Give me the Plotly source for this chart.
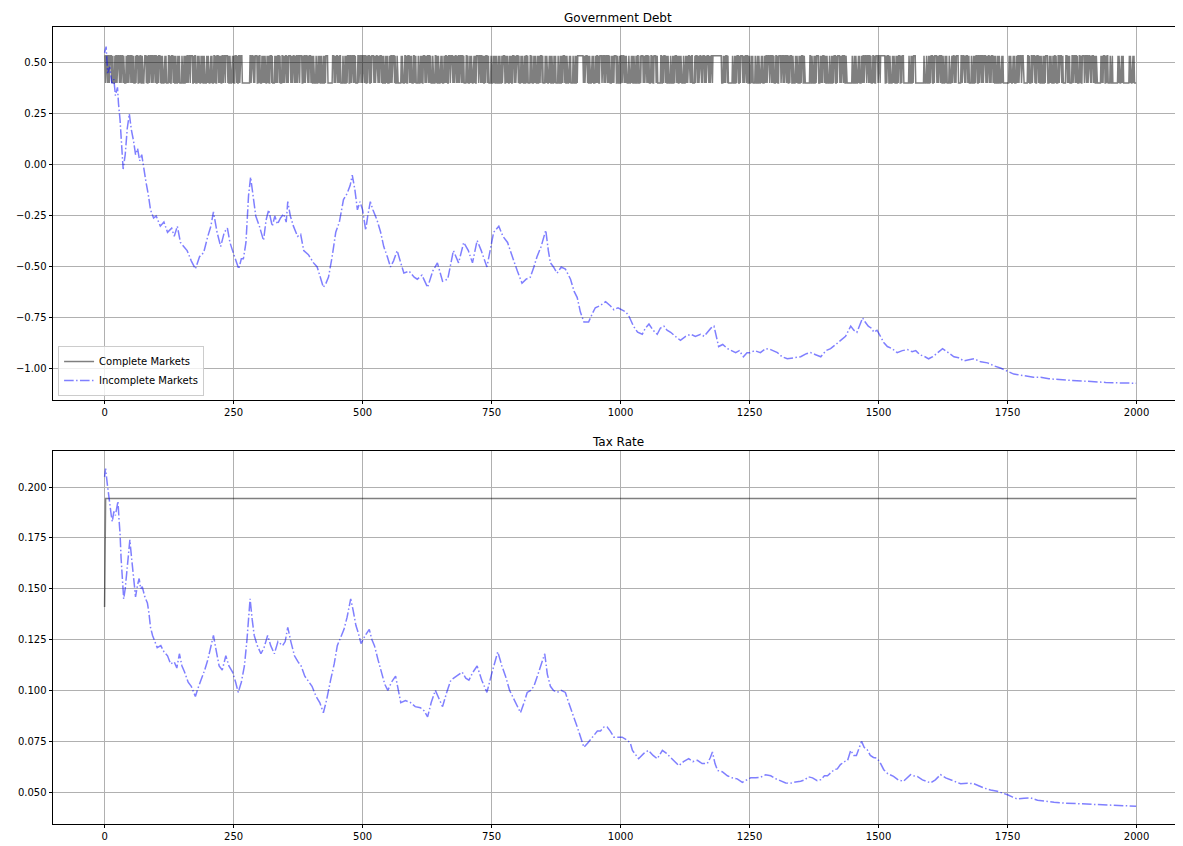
import plotly.graph_objects as go
from plotly.subplots import make_subplots

T = 2000

# ---- Complete markets: debt switches between two levels ----
debt_high = 0.535
debt_low = 0.402
# run lengths of alternating states (read as best possible from the dense band)
cm_runs = (
    "213121412311213221311412213121231132112213411221312131221131"
    "121321142112312213112413121221314211231213112214121321132112"
    "312112213141121321123112214131221131213211421123121213112231"
    "141212311321213112412131122131421121321131221413112213121143"
    "211231213112241312113221312114213121312211321141213212311213"
    "112312214113121321142112312113212413112231213121131421121321"
    "131221123141213112213121142113121321124131212211312413112213"
    "121311421213112231214113121312211421131213121231141213211213"
    "112413121231121321141312113221312141121321131221124131213121"
    "131211421312213112141321121312231141213121132112413121321131"
    "221413121131221214131121321124113121321131214121312213112143"
    "121131221413121132114121312213112413121321131221413121132112"
    "413121312211321412131211321141312213121143121131221413121132"
    "114121312213112413121321131221413121132112413121312211321412"
    "131211321141312213121143121131221413121132114121312213112413"
    "213112413121321131241312113221312141213112312213121321141213"
    "121321131221413121312113214112312213121143121312211321412131"
    "312114213121132112413121321131221413121132112413121312211321"
    "412131211321141312213121143121131221413121132114121312213112"
    "413121321131221413121132112413121312211321412131211321141312"
)
# long holds visible as white slits: (start, end, state 1=high 0=low)
cm_holds = [
    (267, 281, 0), (434, 441, 0), (568, 574, 0), (918, 926, 1),
    (1072, 1077, 0), (1180, 1192, 1), (1209, 1212, 0), (1358, 1365, 0),
    (1440, 1444, 0), (1504, 1510, 1), (1549, 1556, 0), (1575, 1585, 0),
    (1655, 1658, 0), (1742, 1750, 0), (1781, 1788, 0), (1858, 1861, 0),
    (1924, 1927, 0), (1955, 1963, 0), (1975, 1985, 0),
]

states = []
s = 1
for ch in cm_runs:
    states.extend([s] * int(ch))
    s = 1 - s
states = states[:T]
while len(states) < T:
    states.append(states[-1])
for a, b, st in cm_holds:
    for i in range(a, b + 1):
        states[i] = st
debt_complete = [debt_high if st else debt_low for st in states]

# Complete markets tax: initial value then constant
tax_complete_0 = 0.141
tax_complete_rest = 0.1943
tax_complete = [tax_complete_0] + [tax_complete_rest] * (T - 1)

# ---- Incomplete markets debt (t, value) ----
debt_t = [0,3,6,10,14,18,21,25,27,30,33,36,40,44,48,52,56,60,64,68,72,76,80,85,89,95,100,108,115,122,130,135,141,147,153,160,168,176,184,192,200,206,211,218,225,232,238,243,248,254,260,265,269,274,279,283,288,293,300,308,313,318,325,330,335,341,347,352,355,360,366,374,380,386,395,405,412,418,424,429,434,441,448,455,463,470,476,480,485,490,495,500,506,510,515,520,528,535,541,548,554,560,567,574,580,590,600,606,615,626,636,645,655,665,676,686,696,705,713,722,730,741,748,754,764,772,781,787,793,800,809,817,825,832,838,846,855,860,864,870,877,885,893,903,910,916,922,929,938,945,951,960,971,980,987,995,1003,1010,1016,1025,1033,1042,1048,1055,1063,1071,1077,1084,1090,1097,1106,1116,1126,1136,1145,1155,1162,1168,1175,1181,1186,1190,1198,1207,1215,1223,1230,1238,1245,1251,1260,1271,1281,1291,1304,1313,1323,1335,1349,1360,1368,1378,1388,1398,1407,1417,1426,1436,1446,1452,1458,1464,1469,1474,1480,1486,1491,1497,1504,1510,1517,1526,1536,1546,1556,1565,1572,1580,1590,1597,1605,1614,1624,1635,1646,1655,1665,1675,1685,1698,1711,1724,1736,1749,1762,1775,1788,1800,1814,1830,1850,1866,1890,1917,1940,1963,1999]
debt_v = [0.55,0.58,0.45,0.48,0.40,0.42,0.34,0.38,0.30,0.22,0.10,-0.02,0.05,0.18,0.25,0.17,0.12,0.05,0.08,0.02,0.05,-0.02,-0.08,-0.15,-0.22,-0.26,-0.25,-0.30,-0.28,-0.33,-0.31,-0.35,-0.30,-0.38,-0.40,-0.42,-0.47,-0.51,-0.45,-0.43,-0.35,-0.30,-0.23,-0.33,-0.40,-0.33,-0.31,-0.38,-0.42,-0.47,-0.51,-0.46,-0.46,-0.38,-0.15,-0.06,-0.17,-0.25,-0.30,-0.37,-0.27,-0.22,-0.30,-0.25,-0.29,-0.26,-0.24,-0.28,-0.18,-0.25,-0.30,-0.35,-0.34,-0.42,-0.44,-0.48,-0.50,-0.55,-0.60,-0.58,-0.55,-0.45,-0.33,-0.28,-0.17,-0.14,-0.10,-0.05,-0.12,-0.22,-0.18,-0.22,-0.32,-0.25,-0.18,-0.22,-0.27,-0.33,-0.40,-0.45,-0.50,-0.47,-0.42,-0.48,-0.53,-0.52,-0.55,-0.56,-0.54,-0.60,-0.52,-0.48,-0.57,-0.56,-0.42,-0.48,-0.38,-0.42,-0.48,-0.37,-0.42,-0.50,-0.40,-0.33,-0.30,-0.35,-0.38,-0.42,-0.47,-0.52,-0.58,-0.56,-0.55,-0.50,-0.45,-0.40,-0.32,-0.42,-0.48,-0.50,-0.53,-0.50,-0.51,-0.56,-0.62,-0.65,-0.72,-0.77,-0.77,-0.73,-0.70,-0.69,-0.67,-0.69,-0.71,-0.70,-0.71,-0.72,-0.74,-0.79,-0.82,-0.83,-0.80,-0.78,-0.81,-0.83,-0.80,-0.79,-0.81,-0.82,-0.84,-0.86,-0.84,-0.83,-0.84,-0.83,-0.84,-0.82,-0.80,-0.79,-0.85,-0.89,-0.88,-0.90,-0.91,-0.92,-0.91,-0.94,-0.92,-0.92,-0.91,-0.92,-0.90,-0.905,-0.92,-0.94,-0.95,-0.945,-0.94,-0.925,-0.92,-0.93,-0.94,-0.91,-0.90,-0.88,-0.86,-0.84,-0.79,-0.81,-0.82,-0.78,-0.75,-0.77,-0.79,-0.80,-0.82,-0.81,-0.84,-0.87,-0.89,-0.90,-0.92,-0.91,-0.905,-0.915,-0.91,-0.93,-0.94,-0.95,-0.94,-0.92,-0.90,-0.92,-0.94,-0.945,-0.96,-0.955,-0.95,-0.965,-0.97,-0.985,-0.995,-1.01,-1.025,-1.03,-1.035,-1.04,-1.04,-1.048,-1.052,-1.055,-1.06,-1.063,-1.066,-1.068,-1.07]

# ---- Incomplete markets tax rate (t, value) ----
tax_t = [0,2,5,8,10,13,15,18,21,24,26,28,30,32,34,37,40,44,49,52,54,57,60,64,67,70,73,78,83,86,89,93,96,102,109,115,122,128,135,140,145,150,155,162,168,176,181,187,194,200,206,211,216,222,228,235,241,248,254,259,265,271,276,282,286,290,296,303,309,316,322,329,336,345,350,355,361,368,375,381,388,394,402,410,417,424,430,438,445,451,458,464,470,477,482,487,492,497,505,513,518,523,530,536,543,549,556,564,569,574,583,593,602,612,619,626,633,641,648,655,663,671,682,693,700,706,714,722,731,741,750,758,762,770,777,785,793,800,806,813,819,826,832,840,845,853,858,864,870,877,885,893,898,903,909,916,922,929,936,942,948,955,961,968,974,980,987,995,1003,1013,1019,1023,1030,1035,1045,1054,1063,1071,1081,1089,1097,1105,1113,1122,1132,1140,1149,1158,1168,1174,1178,1183,1188,1197,1207,1216,1226,1236,1244,1252,1262,1271,1281,1291,1300,1310,1320,1329,1339,1349,1357,1364,1372,1381,1388,1395,1401,1407,1414,1420,1426,1434,1440,1446,1452,1457,1462,1467,1472,1478,1484,1490,1496,1502,1510,1518,1529,1538,1548,1555,1562,1568,1575,1585,1594,1601,1610,1620,1630,1640,1650,1659,1672,1685,1695,1704,1717,1730,1740,1750,1760,1769,1782,1795,1808,1820,1840,1859,1880,1898,1925,1950,1975,1999]
tax_v = [0.205,0.209,0.202,0.195,0.190,0.186,0.183,0.188,0.186,0.190,0.193,0.184,0.177,0.165,0.157,0.145,0.150,0.162,0.174,0.166,0.160,0.153,0.146,0.152,0.155,0.150,0.151,0.146,0.143,0.138,0.131,0.127,0.125,0.121,0.122,0.119,0.117,0.113,0.114,0.111,0.118,0.112,0.109,0.104,0.102,0.097,0.101,0.105,0.110,0.115,0.121,0.127,0.120,0.112,0.110,0.117,0.112,0.109,0.104,0.099,0.104,0.112,0.125,0.145,0.135,0.127,0.122,0.118,0.121,0.127,0.122,0.118,0.124,0.122,0.124,0.131,0.124,0.117,0.114,0.112,0.107,0.105,0.102,0.097,0.094,0.089,0.095,0.105,0.113,0.122,0.126,0.130,0.136,0.145,0.139,0.132,0.128,0.123,0.127,0.130,0.125,0.122,0.115,0.109,0.103,0.100,0.104,0.107,0.100,0.094,0.095,0.094,0.092,0.0915,0.090,0.087,0.094,0.100,0.096,0.092,0.099,0.105,0.107,0.109,0.106,0.105,0.109,0.112,0.105,0.099,0.108,0.115,0.119,0.112,0.107,0.100,0.0955,0.092,0.089,0.094,0.099,0.100,0.102,0.108,0.112,0.118,0.108,0.102,0.100,0.099,0.100,0.099,0.095,0.091,0.087,0.082,0.077,0.072,0.074,0.076,0.078,0.080,0.080,0.082,0.082,0.080,0.077,0.077,0.077,0.0755,0.074,0.0705,0.068,0.0664,0.069,0.0705,0.068,0.0664,0.0705,0.069,0.067,0.065,0.063,0.065,0.0664,0.065,0.0656,0.064,0.064,0.067,0.0697,0.064,0.0606,0.060,0.058,0.057,0.0565,0.0548,0.056,0.057,0.057,0.0573,0.0585,0.058,0.0566,0.0556,0.0545,0.0543,0.055,0.0553,0.056,0.0575,0.057,0.0556,0.0561,0.058,0.058,0.0594,0.061,0.0614,0.0635,0.065,0.0656,0.0705,0.068,0.068,0.072,0.0749,0.072,0.0708,0.068,0.067,0.0667,0.065,0.061,0.059,0.0577,0.056,0.0553,0.057,0.0586,0.058,0.0577,0.056,0.0552,0.0545,0.056,0.0586,0.057,0.0561,0.055,0.0541,0.0543,0.0541,0.053,0.052,0.051,0.0504,0.0495,0.0487,0.0475,0.0466,0.047,0.0471,0.046,0.0455,0.045,0.0446,0.0443,0.0441,0.0438,0.0435,0.0433,0.043]

t_all = list(range(T))

GRAY = "rgba(0,0,0,0.5)"
BLUE = "rgba(0,0,255,0.5)"
DASHDOT = "9.6px,2.4px,1.5px,2.4px"
FONT = "DejaVu Sans"

fig = make_subplots(rows=2, cols=1, vertical_spacing=0.064,
                    subplot_titles=("Government Debt", "Tax Rate"))

fig.add_trace(go.Scatter(x=t_all, y=debt_complete, mode="lines", name="Complete Markets",
                         line=dict(color=GRAY, width=1.5)), row=1, col=1)
fig.add_trace(go.Scatter(x=debt_t, y=debt_v, mode="lines", name="Incomplete Markets",
                         line=dict(color=BLUE, width=1.5, dash=DASHDOT)), row=1, col=1)
fig.add_trace(go.Scatter(x=t_all, y=tax_complete, mode="lines", showlegend=False,
                         line=dict(color=GRAY, width=1.5)), row=2, col=1)
fig.add_trace(go.Scatter(x=tax_t, y=tax_v, mode="lines", showlegend=False,
                         line=dict(color=BLUE, width=1.5, dash=DASHDOT)), row=2, col=1)

axis_common = dict(showgrid=True, gridcolor="#b0b0b0", gridwidth=0.8,
                   showline=True, linecolor="black", linewidth=0.8, mirror=True,
                   ticks="outside", ticklen=3.5, tickwidth=0.8, tickcolor="black",
                   zeroline=False, tickfont=dict(family=FONT, size=10, color="black"))

for r in (1, 2):
    fig.update_xaxes(range=[-99.95, 2088], tickvals=[0, 250, 500, 750, 1000, 1250, 1500, 1750, 2000],
                     **axis_common, row=r, col=1)
fig.update_yaxes(range=[-1.152, 0.676], tickvals=[-1.0, -0.75, -0.5, -0.25, 0.0, 0.25, 0.5],
                 tickformat=".2f", **axis_common, row=1, col=1)
fig.update_yaxes(range=[0.0343, 0.2177], tickvals=[0.05, 0.075, 0.1, 0.125, 0.15, 0.175, 0.2],
                 tickformat=".3f", **axis_common, row=2, col=1)

# The page body adds an 8px offset; size the figure so the axes land where the reference has them.
fig.update_layout(
    width=1175, height=838,
    margin=dict(l=45, r=1, t=19, b=22),
    paper_bgcolor="white", plot_bgcolor="white",
    font=dict(family=FONT, size=10, color="black"),
    legend=dict(x=0.0045, y=0.537, xanchor="left", yanchor="bottom",
                bgcolor="rgba(255,255,255,0.8)", bordercolor="#cccccc", borderwidth=1,
                font=dict(family=FONT, size=10, color="black"), tracegroupgap=0),
)
fig.layout.yaxis.domain = [0.532, 1.0]
fig.layout.yaxis2.domain = [0.0, 0.468]
for ann in fig.layout.annotations:
    ann.font = dict(family=FONT, size=12, color="black")
    ann.yshift = 0

fig.write_html("out.html")
